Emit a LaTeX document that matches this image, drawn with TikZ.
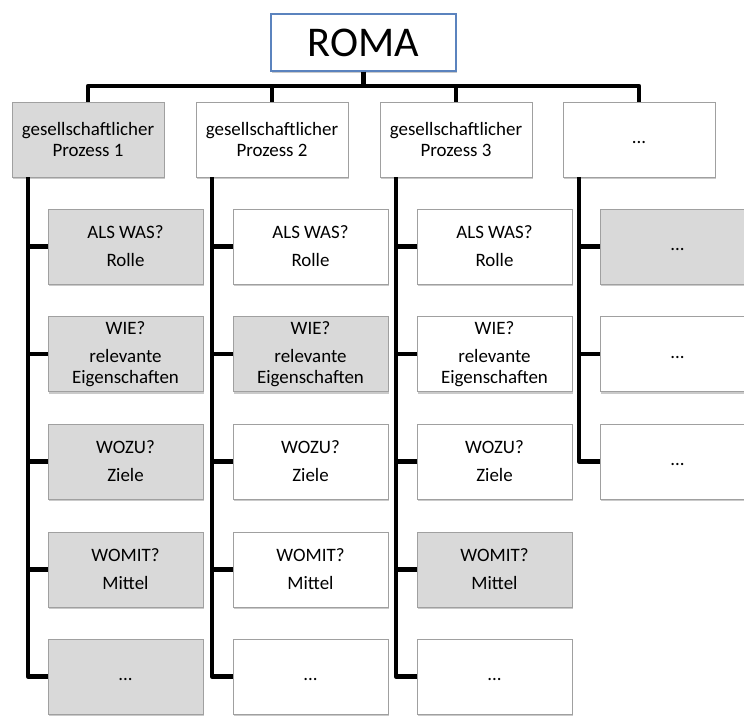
\documentclass[tikz,border=0pt]{standalone}
\usepackage{fontspec}
\setmainfont{Carlito}
\usetikzlibrary{shadows}
\definecolor{boxgray}{HTML}{D9D9D9}
\definecolor{edgegray}{HTML}{A0A0A0}
\definecolor{romablue}{HTML}{5B83BE}
\tikzset{
  box/.style={draw=edgegray, line width=0.9bp, minimum width=152bp, minimum height=75bp,
    align=center, inner sep=2bp, font=\fontsize{19}{21}\selectfont,
    drop shadow={shadow xshift=1.2bp, shadow yshift=-2bp, opacity=0.35, fill=black!60}},
  kid/.style={box, minimum width=155bp},
  shaded/.style={fill=boxgray},
  plain/.style={fill=white},
  conn/.style={line width=4.5bp, line join=round, draw=black},
}
\begin{document}
\begin{tikzpicture}[x=1bp,y=-1bp]
\useasboundingbox (0,0) rectangle (744,716);
% root
\node[draw=romablue, line width=1.5bp, fill=white, minimum width=185bp, minimum height=57bp,
  font=\fontsize{42.5}{50}\selectfont,
  drop shadow={shadow xshift=1.2bp, shadow yshift=-2bp, opacity=0.35, fill=black!60}]
  (roma) at (363.5,42.5) {ROMA};
% level 1
\node[box,shaded] (p1) at (88,139.5) {gesellschaftlicher\\Prozess 1};
\node[box,plain]  (p2) at (272,139.5) {gesellschaftlicher\\Prozess 2};
\node[box,plain]  (p3) at (456,139.5) {gesellschaftlicher\\Prozess 3};
\node[box,plain]  (p4) at (639,139.5) {\strut...};
% column 1
\node[kid,shaded] (a1) at (125.5,246.5) {ALS WAS?\\[7bp]Rolle};
\node[kid,shaded] (a2) at (125.5,354) {WIE?\\[7bp]relevante\\Eigenschaften};
\node[kid,shaded] (a3) at (125.5,461.5) {WOZU?\\[7bp]Ziele};
\node[kid,shaded] (a4) at (125.5,569.5) {WOMIT?\\[7bp]Mittel};
\node[kid,shaded] (a5) at (125.5,676.5) {\strut...};
% column 2
\node[kid,plain]  (b1) at (310.5,246.5) {ALS WAS?\\[7bp]Rolle};
\node[kid,shaded] (b2) at (310.5,354) {WIE?\\[7bp]relevante\\Eigenschaften};
\node[kid,plain]  (b3) at (310.5,461.5) {WOZU?\\[7bp]Ziele};
\node[kid,plain]  (b4) at (310.5,569.5) {WOMIT?\\[7bp]Mittel};
\node[kid,plain]  (b5) at (310.5,676.5) {\strut...};
% column 3
\node[kid,plain]  (c1) at (494.5,246.5) {ALS WAS?\\[7bp]Rolle};
\node[kid,plain]  (c2) at (494.5,354) {WIE?\\[7bp]relevante\\Eigenschaften};
\node[kid,plain]  (c3) at (494.5,461.5) {WOZU?\\[7bp]Ziele};
\node[kid,shaded] (c4) at (494.5,569.5) {WOMIT?\\[7bp]Mittel};
\node[kid,plain]  (c5) at (494.5,676.5) {\strut...};
% column 4
\node[kid,shaded] (d1) at (677.5,246.5) {\strut...};
\node[kid,plain]  (d2) at (677.5,354) {\strut...};
\node[kid,plain]  (d3) at (677.5,461.5) {\strut...};
% bus
\coordinate (bus) at (0,86);
\draw[conn] (p1.north) -- (p1.north |- bus) -- (p4.north |- bus) -- (p4.north);
\draw[conn] (roma.south) -- (roma.south |- bus);
\draw[conn] (p2.north) -- (p2.north |- bus);
\draw[conn] (p3.north) -- (p3.north |- bus);
% spines
\coordinate (s1) at ([xshift=-60bp]p1.south);
\coordinate (s2) at ([xshift=-60bp]p2.south);
\coordinate (s3) at ([xshift=-60bp]p3.south);
\coordinate (s4) at ([xshift=-60bp]p4.south);
\draw[conn] (s1) |- (a5.west);
\foreach \n in {a1,a2,a3,a4} \draw[conn] (s1 |- \n.west) -- (\n.west);
\draw[conn] (s2) |- (b5.west);
\foreach \n in {b1,b2,b3,b4} \draw[conn] (s2 |- \n.west) -- (\n.west);
\draw[conn] (s3) |- (c5.west);
\foreach \n in {c1,c2,c3,c4} \draw[conn] (s3 |- \n.west) -- (\n.west);
\draw[conn] (s4) |- (d3.west);
\foreach \n in {d1,d2} \draw[conn] (s4 |- \n.west) -- (\n.west);
\end{tikzpicture}
\end{document}
